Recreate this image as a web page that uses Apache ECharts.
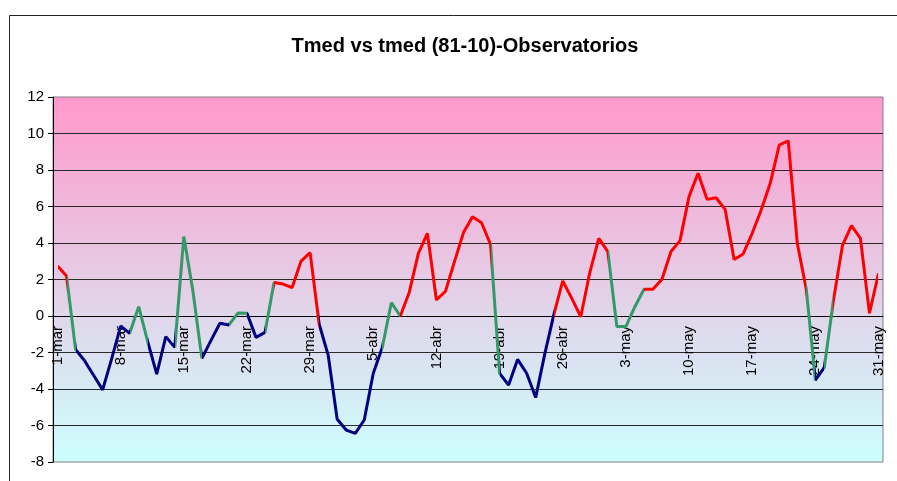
<!DOCTYPE html>
<html>
<head>
<meta charset="utf-8">
<title>Tmed vs tmed (81-10)-Observatorios</title>
<script src="https://cdn.jsdelivr.net/npm/echarts@6/dist/echarts.min.js"></script>
<style>
  html, body { margin: 0; padding: 0; background: #fff; }
  #chart { width: 897px; height: 481px; }
</style>
</head>
<body>
<div id="chart"></div>
<script>
// dias del periodo 1-mar .. 31-may
const dias = [
  '1-mar', '2-mar', '3-mar', '4-mar', '5-mar', '6-mar', '7-mar', '8-mar', '9-mar', '10-mar',
  '11-mar', '12-mar', '13-mar', '14-mar', '15-mar', '16-mar', '17-mar', '18-mar', '19-mar', '20-mar',
  '21-mar', '22-mar', '23-mar', '24-mar', '25-mar', '26-mar', '27-mar', '28-mar', '29-mar', '30-mar', '31-mar',
  '1-abr', '2-abr', '3-abr', '4-abr', '5-abr', '6-abr', '7-abr', '8-abr', '9-abr', '10-abr',
  '11-abr', '12-abr', '13-abr', '14-abr', '15-abr', '16-abr', '17-abr', '18-abr', '19-abr', '20-abr',
  '21-abr', '22-abr', '23-abr', '24-abr', '25-abr', '26-abr', '27-abr', '28-abr', '29-abr', '30-abr',
  '1-may', '2-may', '3-may', '4-may', '5-may', '6-may', '7-may', '8-may', '9-may', '10-may',
  '11-may', '12-may', '13-may', '14-may', '15-may', '16-may', '17-may', '18-may', '19-may', '20-may',
  '21-may', '22-may', '23-may', '24-may', '25-may', '26-may', '27-may', '28-may', '29-may', '30-may', '31-may'
];

// anomalia de temperatura media (ºC)
const tmed = [
  2.74, 2.19, -1.83, -2.45, -3.25, -4.05, -2.35, -0.55, -0.95, 0.51,
  -1.41, -3.18, -1.13, -1.72, 4.35, 1.4, -2.32, -1.35, -0.40, -0.49,
  0.16, 0.15, -1.17, -0.90, 1.83, 1.75, 1.55, 3.01, 3.47, -0.44, -2.14,
  -5.66, -6.25, -6.43, -5.70, -3.14, -1.73, 0.73, 0.0, 1.32, 3.43,
  4.53, 0.88, 1.35, 2.98, 4.57, 5.44, 5.11, 3.92, -3.14, -3.78,
  -2.38, -3.14, -4.47, -2.1, 0.05, 1.92, 0.97, -0.04, 2.38, 4.25,
  3.53, -0.58, -0.58, 0.51, 1.46, 1.46, 2.01, 3.53, 4.13, 6.54,
  7.82, 6.39, 6.48, 5.84, 3.10, 3.40, 4.53, 5.81, 7.27, 9.37,
  9.59, 3.98, 1.46, -3.51, -2.81, 0.84, 3.85, 4.95, 4.25, 0.15, 2.34
];

// clase del tramo que llega a cada dia: A = por encima, N = normal, B = por debajo
const clase = [
  'A', 'A', 'N', 'B', 'B', 'B', 'B', 'B', 'B', 'N',
  'N', 'B', 'B', 'B', 'N', 'N', 'N', 'B', 'B', 'B',
  'N', 'N', 'B', 'B', 'N', 'A', 'A', 'A', 'A', 'A', 'B',
  'B', 'B', 'B', 'B', 'B', 'B', 'N', 'N', 'A', 'A',
  'A', 'A', 'A', 'A', 'A', 'A', 'A', 'A', 'N', 'B',
  'B', 'B', 'B', 'B', 'B', 'A', 'A', 'A', 'A', 'A',
  'A', 'N', 'N', 'N', 'N', 'A', 'A', 'A', 'A', 'A',
  'A', 'A', 'A', 'A', 'A', 'A', 'A', 'A', 'A', 'A',
  'A', 'A', 'A', 'N', 'B', 'N', 'A', 'A', 'A', 'A', 'A'
];

const colorClase = { A: '#ff0000', N: '#339966', B: '#000080' };
const fuente = 'Arial, "Liberation Sans", sans-serif';

// tramos de color sobre el eje x (indice de dia)
function buildPieces() {
  const pieces = [];
  let inicio = 0;
  for (let k = 1; k < clase.length; k++) {
    const ultimo = k === clase.length - 1;
    if (ultimo || clase[k + 1] !== clase[k]) {
      pieces.push({ gte: inicio, lte: k, color: colorClase[clase[k]] });
      inicio = k;
    }
  }
  return pieces;
}

const chart = echarts.init(document.getElementById('chart'));

const option = {
  animation: false,
  backgroundColor: '#ffffff',
  title: {
    text: 'Tmed vs tmed (81-10)-Observatorios',
    left: 460,
    top: 31,
    textAlign: 'center',
    textStyle: { fontFamily: fuente, fontSize: 20, fontWeight: 'bold', color: '#000' }
  },
  graphic: [
    {
      type: 'rect',
      left: 7,
      top: 13,
      shape: { width: 1000, height: 1000 },
      style: { fill: 'none', stroke: '#222', lineWidth: 1 },
      silent: true
    }
  ],
  grid: {
    left: 53,
    right: 14,
    top: 97,
    bottom: 19,
    outerBoundsMode: 'none',
    containLabel: false,
    show: true,
    borderColor: '#808080',
    borderWidth: 1,
    backgroundColor: new echarts.graphic.LinearGradient(0, 0, 0, 1, [
      { offset: 0, color: '#ff99cc' },
      { offset: 1, color: '#ccffff' }
    ])
  },
  visualMap: {
    show: false,
    type: 'piecewise',
    dimension: 0,
    seriesIndex: 0,
    pieces: buildPieces()
  },
  xAxis: {
    type: 'category',
    data: dias,
    boundaryGap: true,
    position: 'bottom',
    axisLine: { onZero: false, lineStyle: { color: '#000', width: 1 } },
    axisTick: { interval: 6, length: 4, lineStyle: { color: '#000' } },
    axisLabel: {
      interval: 6,
      rotate: 90,
      margin: 10,
      fontFamily: fuente,
      fontSize: 15,
      color: '#000'
    },
    splitLine: { show: false }
  },
  yAxis: {
    type: 'value',
    min: -8,
    max: 12,
    interval: 2,
    axisLine: { show: true, onZero: false, lineStyle: { color: '#000', width: 1 } },
    axisTick: { show: true, length: 5, lineStyle: { color: '#000' } },
    axisLabel: { fontFamily: fuente, fontSize: 15, color: '#000', margin: 9 },
    splitLine: {
      show: true,
      showMinLine: false,
      showMaxLine: false,
      lineStyle: { color: '#2a2a2a', width: 1 }
    }
  },
  series: [
    {
      name: 'Tmed',
      type: 'line',
      data: tmed,
      showSymbol: false,
      symbol: 'none',
      lineStyle: { width: 3 },
      z: 3
    }
  ]
};

chart.setOption(option);

// el eje de categorias cruza en y = 0, como en la hoja original
const yCero = chart.convertToPixel({ yAxisIndex: 0 }, 0);
const yMin = chart.convertToPixel({ yAxisIndex: 0 }, -8);
chart.setOption({ xAxis: { offset: yCero - yMin } });
</script>
</body>
</html>
